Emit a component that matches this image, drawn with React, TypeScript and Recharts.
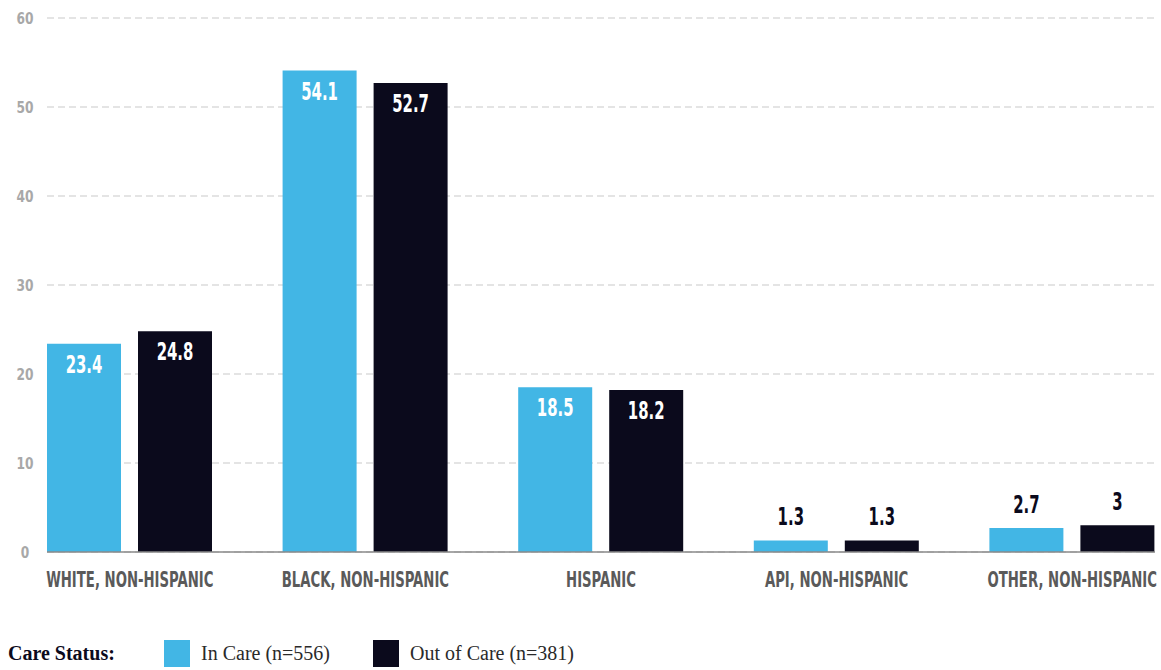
import { BarChart, Bar, XAxis, YAxis, CartesianGrid, LabelList } from 'recharts';

const categories = ['WHITE, NON-HISPANIC', 'BLACK, NON-HISPANIC', 'HISPANIC', 'API, NON-HISPANIC', 'OTHER, NON-HISPANIC'];
const inCare = [23.4, 54.1, 18.5, 1.3, 2.7];
const outOfCare = [24.8, 52.7, 18.2, 1.3, 3];
const yTicks = [0, 10, 20, 30, 40, 50, 60];
const seriesNames = ['In Care (n=556)', 'Out of Care (n=381)'];
const seriesColors = ['#42b6e5', '#0b0a1c'];

const data = categories.map((c, i) => ({ name: c, inCare: inCare[i], outOfCare: outOfCare[i] }));

// no Bebas-like face installed, so squeeze a condensed bold horizontally
const NARROW = "'DejaVu Sans Condensed', 'Liberation Sans Narrow', sans-serif";
const SERIF = "'Liberation Serif', 'DejaVu Serif', serif";

function YTick({ y, payload }: any) {
  return (
    <g transform={`translate(25,${y + 6})`}>
      <text transform="scale(0.85,1)" x={0} y={0} textAnchor="middle" fill="#a8a8a8" fontFamily={NARROW} fontWeight={700} fontSize={16}>
        {payload.value}
      </text>
    </g>
  );
}

function XTick({ x, payload }: any) {
  return (
    <g transform={`translate(${x},587)`}>
      <text transform="scale(0.67,1)" x={0} y={0} textAnchor="middle" fill="#5a5a5a" fontFamily={NARROW} fontWeight={700} fontSize={22}>
        {payload.value}
      </text>
    </g>
  );
}

function ValueLabel({ x, y, width, value }: any) {
  const inside = value >= 10;
  const cx = x + width / 2;
  const ty = inside ? y + 29 : y - 15;
  return (
    <g transform={`translate(${cx},${ty})`}>
      <text transform="scale(0.69,1)" x={0} y={0} textAnchor="middle" fill={inside ? '#ffffff' : '#0b0a1c'} fontFamily={NARROW} fontWeight={700} fontSize={24}>
        {value}
      </text>
    </g>
  );
}

export default function App() {
  return (
    <div style={{ position: 'absolute', left: 0, top: 0, width: 1161, height: 670, background: '#fff' }}>
      <BarChart
        width={1161}
        height={610}
        data={data}
        margin={{ top: 18, right: 6, left: 0, bottom: 18 }}
        barCategoryGap={35}
        barGap={17}
      >
        <CartesianGrid vertical={false} stroke="#c9c9c9" strokeDasharray="7 4" />
        <XAxis
          dataKey="name"
          height={40}
          padding={{ left: -35, right: -35 }}
          axisLine={{ stroke: '#8a8a8a', strokeWidth: 1.5 }}
          tickLine={false}
          tick={<XTick />}
          interval={0}
        />
        <YAxis
          width={47}
          domain={[0, 60]}
          ticks={yTicks}
          axisLine={false}
          tickLine={false}
          tick={<YTick />}
        />
        <Bar dataKey="inCare" name={seriesNames[0]} fill={seriesColors[0]} isAnimationActive={false}>
          <LabelList dataKey="inCare" content={<ValueLabel />} />
        </Bar>
        <Bar dataKey="outOfCare" name={seriesNames[1]} fill={seriesColors[1]} isAnimationActive={false}>
          <LabelList dataKey="outOfCare" content={<ValueLabel />} />
        </Bar>
      </BarChart>
      <div style={{ position: 'absolute', left: 8, top: 640, height: 27, display: 'flex', alignItems: 'center', fontFamily: SERIF, fontSize: 20, color: '#0b0a1c' }}>
        <span style={{ fontWeight: 700, width: 156 }}>Care Status:</span>
        {seriesNames.map((n, i) => (
          <span key={n} style={{ display: 'flex', alignItems: 'center', marginRight: 43 }}>
            <span style={{ display: 'inline-block', width: 26, height: 27, background: seriesColors[i], marginRight: 11 }} />
            <span style={{ color: '#2a2a2a' }}>{n}</span>
          </span>
        ))}
      </div>
    </div>
  );
}
